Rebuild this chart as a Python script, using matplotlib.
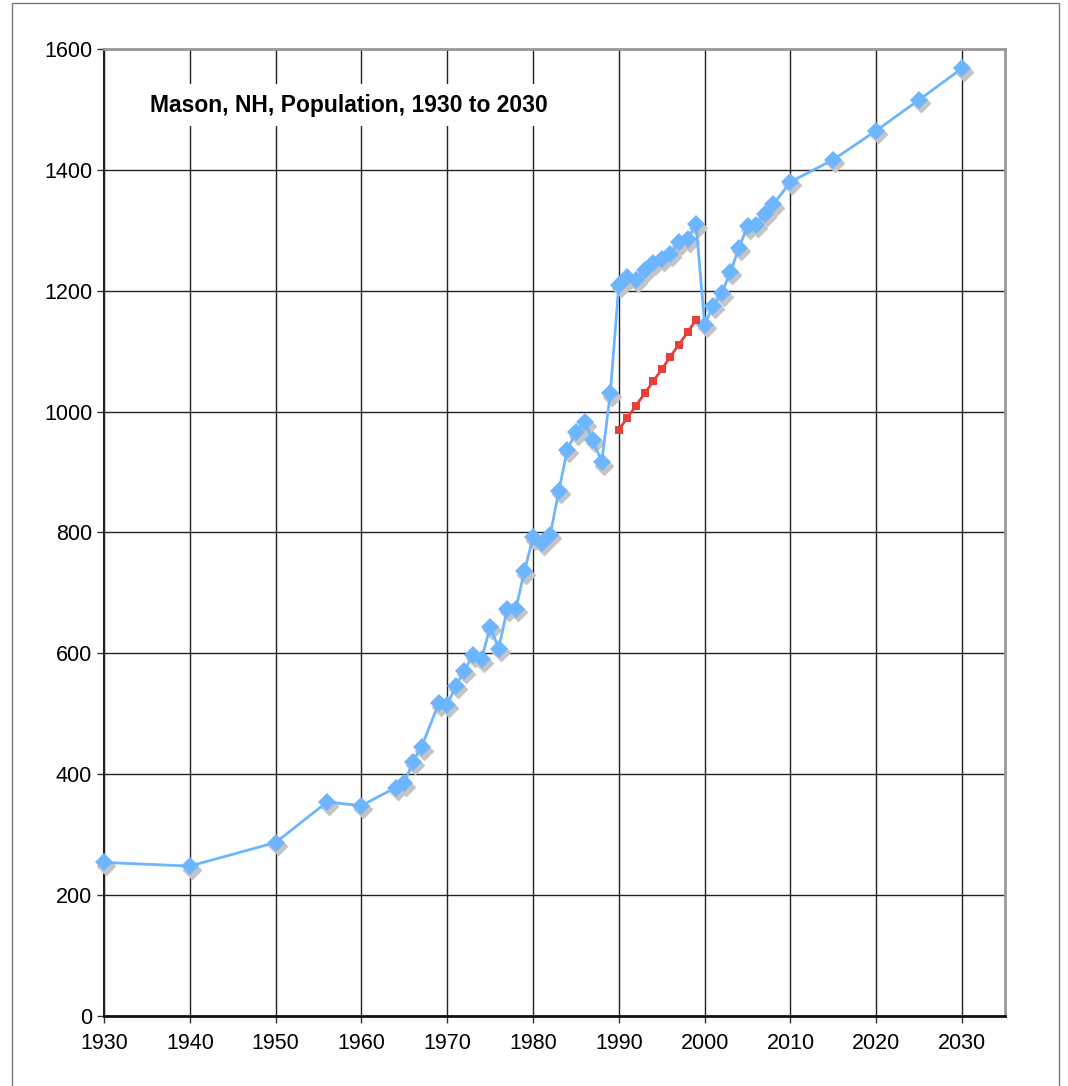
import matplotlib
matplotlib.use("Agg")
import matplotlib.pyplot as plt
from matplotlib import transforms
from matplotlib.patches import Rectangle

plt.rcParams['font.family'] = ['Liberation Sans', 'DejaVu Sans']

# population series (blue)
years = [1930, 1940, 1950, 1956, 1960, 1964, 1965, 1966, 1967, 1969, 1970,
         1971, 1972, 1973, 1974, 1975, 1976, 1977, 1978, 1979, 1980, 1981,
         1982, 1983, 1984, 1985, 1986, 1987, 1988, 1989, 1990, 1991, 1992,
         1993, 1994, 1995, 1996, 1997, 1998, 1999, 2000, 2001, 2002, 2003,
         2004, 2005, 2006, 2007, 2008, 2010, 2015, 2020, 2025, 2030]
pop = [254, 248, 287, 354, 348, 378, 385, 421, 445, 517, 515,
       546, 571, 598, 590, 644, 608, 674, 674, 736, 792, 783,
       796, 869, 937, 966, 982, 953, 916, 1030, 1210, 1222, 1218,
       1235, 1246, 1253, 1261, 1280, 1285, 1310, 1144, 1175, 1196, 1231,
       1271, 1307, 1309, 1327, 1343, 1380, 1417, 1465, 1516, 1568]

# 1990s series (red)
years_red = [1990, 1991, 1992, 1993, 1994, 1995, 1996, 1997, 1998, 1999]
pop_red = [970, 990, 1010, 1030, 1050, 1070, 1091, 1111, 1131, 1152]

xticks = list(range(1930, 2031, 10))
yticks = list(range(0, 1601, 200))

fig = plt.figure(figsize=(10.68, 10.86), dpi=100)
ax = fig.add_axes([0.0974, 0.0645, 0.8436, 0.8904])

# outer frame
fig.patches.append(Rectangle((12 / 1068, -0.05), (1059 - 12) / 1068, 1.05 - 3 / 1086,
                             transform=fig.transFigure, fill=False,
                             edgecolor='#777777', linewidth=1.0))

blue = '#6db6ff'
red = '#e5403a'

shadow = transforms.offset_copy(ax.transData, fig=fig, x=2, y=-3.5, units='dots')
ax.plot(years, pop, linestyle='none', marker='D', markersize=8.8,
        color='#c4c4c4', transform=shadow, zorder=3, clip_on=False)
ax.plot(years, pop, color=blue, linewidth=2.0, marker='D', markersize=8.8,
        markeredgewidth=0, zorder=4, clip_on=False)
ax.plot(years_red, pop_red, color=red, linewidth=2.0, marker='s', markersize=5.8,
        markeredgewidth=0, zorder=4)

ax.set_xlim(1930, 2035)
ax.set_ylim(0, 1600)
ax.set_xticks(xticks)
ax.set_yticks(yticks)
ax.grid(True, color='#222222', linewidth=1.0)
ax.set_axisbelow(True)
ax.tick_params(labelsize=15.5, length=5, width=1, direction='out', color='#333333')
ax.tick_params(axis='x', pad=7)

for s in ('top', 'right'):
    ax.spines[s].set_color('#999999')
    ax.spines[s].set_linewidth(2.0)
ax.spines['left'].set_color('#222222')
ax.spines['left'].set_linewidth(1.5)
ax.spines['bottom'].set_color('#111111')
ax.spines['bottom'].set_linewidth(2.0)

ax.text(0.051, 0.942, 'Mason, NH, Population, 1930 to 2030', transform=ax.transAxes,
        fontsize=16.5, fontweight='bold', va='center', ha='left', zorder=5,
        bbox=dict(facecolor='white', edgecolor='none', pad=7))

fig.savefig('out.png', dpi=100)
